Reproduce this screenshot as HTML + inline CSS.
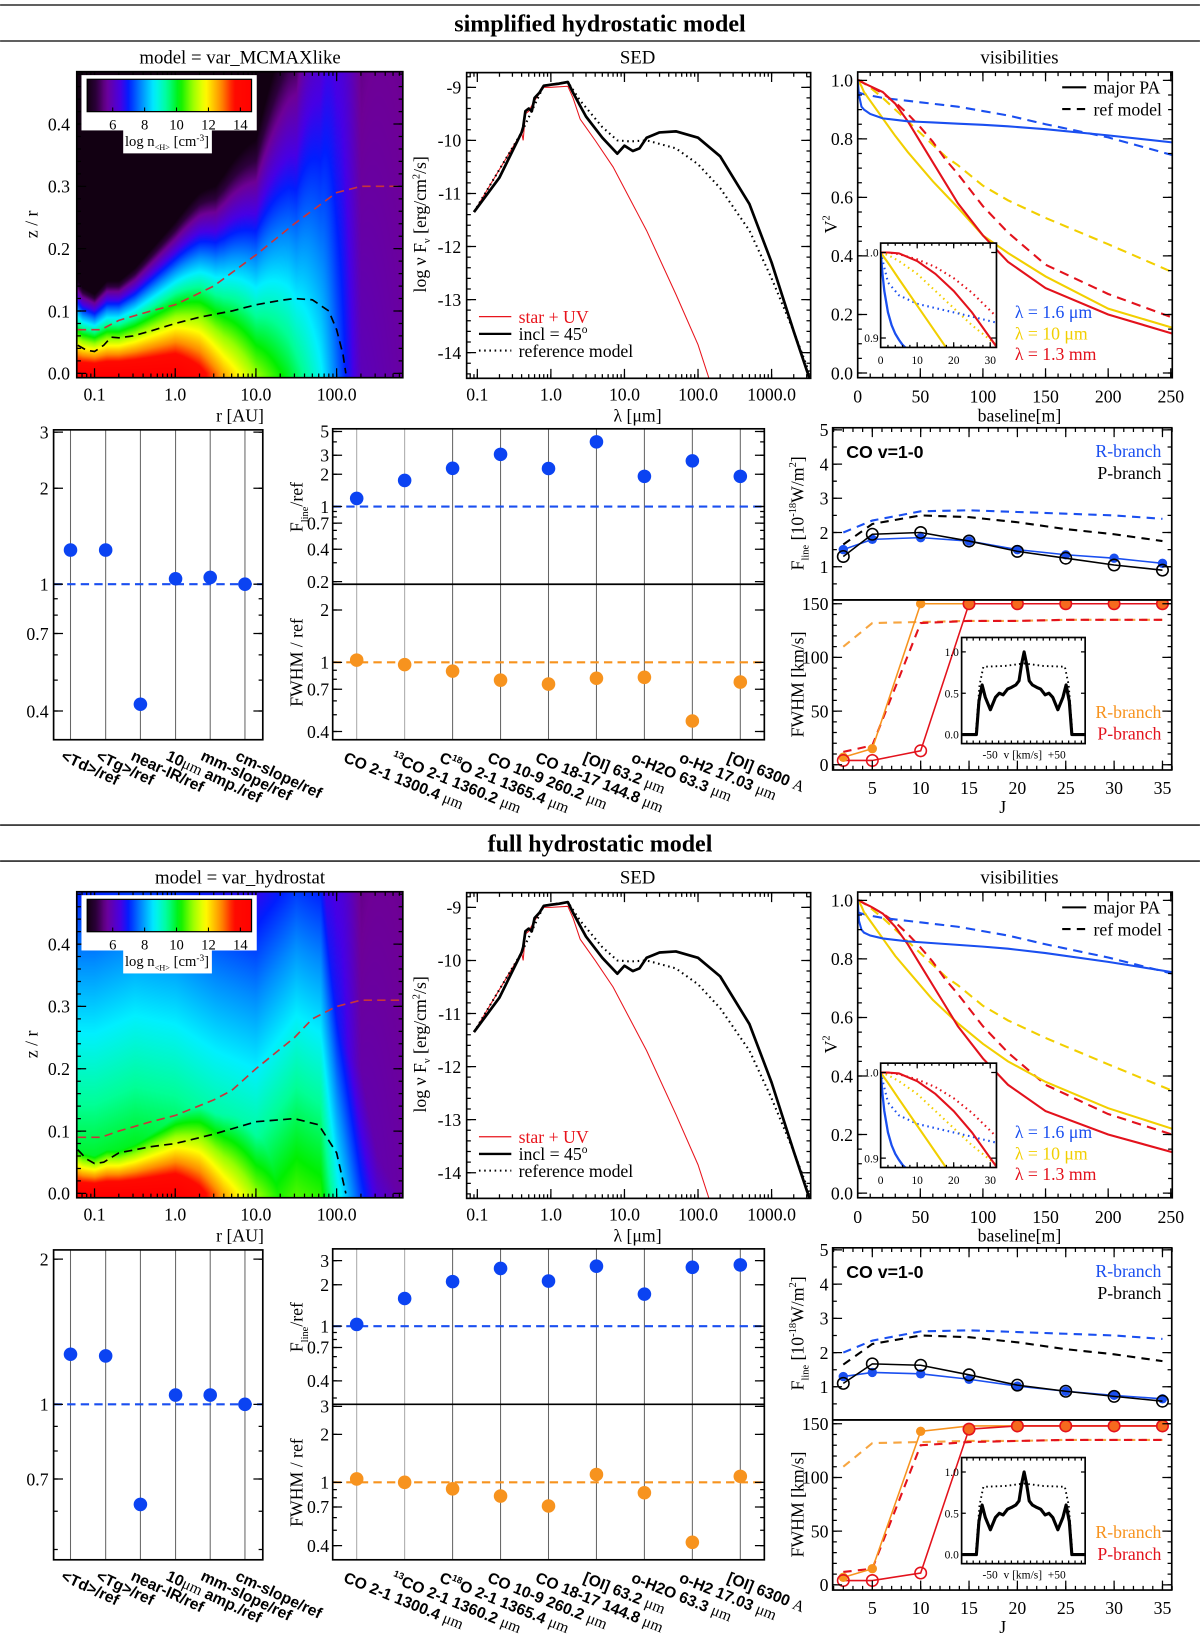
<!DOCTYPE html>
<html><head><meta charset="utf-8">
<style>
html,body{margin:0;padding:0;background:#fff;}
#wrap{position:relative;width:1200px;height:1637px;overflow:hidden;background:#fff;}
canvas{position:absolute;}
#fig{position:absolute;left:0;top:0;}
text{font-family:"Liberation Serif",serif;fill:#000;}
</style></head>
<body>
<div id="wrap">
<canvas id="dens-a"></canvas>
<canvas id="dens-b"></canvas>
<svg id="fig" xmlns="http://www.w3.org/2000/svg" width="1200" height="1637" viewBox="0 0 1150 1569"></svg>
</div>
<script>
// ---------------- DATA ----------------
// SED
const sedLam = [0.09,0.2,0.4,0.42,0.45,0.5,0.55,0.6,0.7,0.8,1.0,1.3,1.7,2,2.5,3,5,8,10,13,16,20,30,50,100,200,500,1000,2000,3300];
const sedBlack = [-11.35,-10.7,-9.85,-9.75,-9.45,-9.4,-9.45,-9.2,-9.1,-8.97,-8.95,-8.93,-8.9,-9.1,-9.35,-9.55,-9.95,-10.25,-10.1,-10.2,-10.15,-9.95,-9.85,-9.83,-9.95,-10.3,-11.2,-12.3,-13.6,-14.5];
const sedRefLam = [0.09,0.4,0.8,1.7,2.5,5,8,12,20,50,100,200,500,1000,2000,3300];
const sedRef = [-11.35,-9.85,-8.97,-8.9,-9.25,-9.75,-10.0,-10.02,-10.0,-10.15,-10.45,-10.9,-11.7,-12.6,-13.6,-14.4];
const sedStarLam = [0.09,0.4,0.42,0.45,0.5,0.6,0.8,1.0,1.7,2,2.5,4,7,20,50,100,150];
const sedStar = [-11.35,-9.85,-10.0,-9.5,-9.45,-9.25,-9.0,-9.0,-8.98,-9.2,-9.6,-10.0,-10.5,-11.7,-12.9,-13.85,-14.6];
const sedXTicks = [0.1,1,10,100,1000];
const sedXLabels = ['0.1','1.0','10.0','100.0','1000.0'];
const sedYTicks = [-9,-10,-11,-12,-13,-14];

// visibilities
const visX = [0,1,3,5,10,20,30,40,50,60,70,80,100,120,150,200,251];
const visBlueSolidA = [1.0,0.95,0.91,0.9,0.885,0.87,0.865,0.86,0.858,0.856,0.854,0.852,0.848,0.843,0.833,0.812,0.788];
const visBlueDashA = [0.96,0.958,0.955,0.953,0.948,0.94,0.935,0.93,0.925,0.92,0.915,0.91,0.895,0.88,0.85,0.805,0.745];
const visYelSolidA = [1,0.995,0.98,0.96,0.93,0.87,0.81,0.755,0.705,0.655,0.61,0.565,0.47,0.41,0.33,0.22,0.155];
const visYelDashA = [1,1,0.995,0.99,0.975,0.94,0.9,0.86,0.82,0.78,0.74,0.71,0.64,0.59,0.53,0.44,0.345];
const visRedSolidA = [1,1,0.995,0.99,0.98,0.96,0.92,0.86,0.79,0.72,0.65,0.58,0.47,0.38,0.29,0.2,0.135];
const visRedDashA = [1,1,0.995,0.99,0.98,0.955,0.925,0.885,0.84,0.79,0.73,0.68,0.57,0.48,0.37,0.27,0.19];
const visBlueSolidB = [1,0.93,0.9,0.89,0.88,0.87,0.865,0.86,0.857,0.854,0.851,0.848,0.842,0.835,0.82,0.79,0.755];
const visBlueDashB = [0.96,0.958,0.955,0.953,0.948,0.94,0.935,0.93,0.925,0.92,0.915,0.91,0.895,0.88,0.85,0.805,0.75];
const visYelSolidB = [1,0.995,0.98,0.96,0.93,0.87,0.81,0.76,0.71,0.66,0.62,0.58,0.51,0.45,0.38,0.29,0.22];
const visYelDashB = [1,1,0.995,0.99,0.975,0.94,0.9,0.86,0.82,0.78,0.74,0.71,0.64,0.59,0.53,0.44,0.35];
const visRedSolidB = [1,1,0.995,0.99,0.98,0.955,0.91,0.85,0.78,0.71,0.64,0.57,0.46,0.37,0.28,0.2,0.14];
const visRedDashB = [1,1,0.995,0.99,0.98,0.955,0.925,0.885,0.84,0.79,0.73,0.68,0.57,0.48,0.37,0.27,0.2];
// inset
const insBlueX = [0,0.5,1,2,3,4,5,6,7];
const insBlueSolid = [1,0.975,0.955,0.93,0.915,0.905,0.898,0.892,0.888];
const insX = [0,2,5,10,15,20,25,31.7];
const insBlueDot = [1,0.965,0.95,0.94,0.935,0.93,0.925,0.918];
const insYelSolid = [1,0.988,0.969,0.938,0.907,0.876,0.845,0.80];
const insYelDot = [1,0.997,0.99,0.975,0.955,0.935,0.915,0.892];
const insRedSolid = [1,1,0.999,0.99,0.975,0.955,0.93,0.89];
const insRedDot = [1,1,0.998,0.992,0.983,0.97,0.953,0.925];

// ratio panels
const ratioCats = ['&lt;Td&gt;/ref','&lt;Tg&gt;/ref','near-IR/ref','10<tspan font-family="Liberation Serif" font-weight="normal">μm</tspan> amp./ref','mm-slope/ref','cm-slope/ref'];
const ratioValsA = [1.28,1.28,0.42,1.04,1.05,1.0];
const ratioValsB = [1.27,1.26,0.62,1.045,1.045,1.0];
const ratioTickLabelsA = [0.4,0.7,1,2,3];
const ratioTickLabelsB = [0.7,1,2];

// line panels
const lineCats = ['CO 2-1 1300.4 <tspan font-family="Liberation Serif" font-weight="normal">μm</tspan>',
 '<tspan font-size="9" dy="-6">13</tspan><tspan dy="6">CO 2-1 1360.2 </tspan><tspan font-family="Liberation Serif" font-weight="normal">μm</tspan>',
 'C<tspan font-size="9" dy="-6">18</tspan><tspan dy="6">O 2-1 1365.4 </tspan><tspan font-family="Liberation Serif" font-weight="normal">μm</tspan>',
 'CO 10-9 260.2 <tspan font-family="Liberation Serif" font-weight="normal">μm</tspan>',
 'CO 18-17 144.8 <tspan font-family="Liberation Serif" font-weight="normal">μm</tspan>',
 '[OI] 63.2 <tspan font-family="Liberation Serif" font-weight="normal">μm</tspan>',
 'o-H2O 63.3 <tspan font-family="Liberation Serif" font-weight="normal">μm</tspan>',
 'o-H2 17.03 <tspan font-family="Liberation Serif" font-weight="normal">μm</tspan>',
 '[OI] 6300 <tspan font-family="Liberation Serif" font-weight="normal">A</tspan>'];
const lineFluxA = [1.19,1.75,2.27,3.06,2.26,4.0,1.91,2.66,1.91];
const lineFwhmA = [1.03,0.97,0.89,0.79,0.75,0.81,0.82,0.46,0.77];
const lineFluxB = [1.03,1.59,2.11,2.63,2.13,2.73,1.71,2.68,2.79];
const lineFwhmB = [1.05,1.0,0.91,0.82,0.71,1.12,0.86,0.42,1.09];
const lineTopLabelsA = [0.2,0.4,0.7,1,2,3,5];
const lineBotLabelsA = [0.4,0.7,1,2];
const lineTopLabelsB = [0.4,0.7,1,2,3];
const lineBotLabelsB = [0.4,0.7,1,2,3];

// CO lines
const coJ = [2,5,10,15,20,25,30,35];
const coRDashA = [2.0,2.35,2.62,2.65,2.6,2.55,2.5,2.4];
const coPDashA = [1.65,2.25,2.5,2.45,2.3,2.1,1.95,1.75];
const coRFluxA = [1.5,1.8,1.85,1.75,1.5,1.35,1.25,1.1];
const coPFluxA = [1.3,1.95,2.0,1.75,1.45,1.25,1.05,0.9];
const coRDashB = [2.0,2.35,2.62,2.65,2.6,2.55,2.5,2.4];
const coPDashB = [1.65,2.25,2.5,2.45,2.3,2.1,1.95,1.75];
const coRFluxB = [1.3,1.42,1.38,1.22,1.02,0.87,0.75,0.65];
const coPFluxB = [1.1,1.67,1.63,1.35,1.05,0.87,0.72,0.58];
const coRFwhmDashA = [110,132,133,134,134,135,135,135];
const coPFwhmDashA = [12,18,132,134,134,135,135,135];
const coRFwhmA = [7,15,150,150,150,150,150,150];
const coPFwhmA = [4,4,13,150,150,150,150,150];
const coRFwhmDashB = [110,132,133,134,134,135,135,135];
const coPFwhmDashB = [12,15,130,133,134,135,135,135];
const coRFwhmB = [7,15,143,148,148,148,148,148];
const coPFwhmB = [4,4,11,145,148,148,148,148];
// line profile inset
const profV = [-97,-75,-71,-66,-61,-53,-45,-39,-33,-26,-20,-13,-8,-4,0,4,8,13,20,26,33,39,45,53,61,66,71,75,97];
const profSolid = [0,0,0.4,0.6,0.45,0.3,0.45,0.5,0.48,0.55,0.57,0.6,0.65,0.85,1.0,0.85,0.65,0.6,0.57,0.55,0.48,0.5,0.45,0.3,0.45,0.6,0.4,0,0];
const profDotV = [-97,-76,-70,-64,-30,0,30,64,70,76,97];
const profDot = [0,0,0.6,0.82,0.83,0.86,0.83,0.82,0.6,0,0];

// density model parameters (by log r)
const mX=[-1.3,0,0.3,0.6,1.0,1.4,1.8,2.0,2.3,2.9], mV=[15,15,14,12.5,11,10,8.7,7.6,6,5.7];
const hX=[-1.3,-1.15,-1.0,-0.85,-0.7,-0.5,0,0.5,1,1.5,1.8,2.0,2.3,2.9], hV=[0.016,0.013,0.012,0.014,0.014,0.016,0.023,0.035,0.057,0.11,0.2,0.4,1,3];
const uX=[-1.3,-1.0,-0.5,0,0.5,1.0,1.5,1.8,2.0,2.3,2.5,2.9], uV=[10.4,10.4,10.6,10.5,10.2,10.0,10.6,10.4,8.9,7.2,6.3,5.5];
const uSlope = 7;
// dashed contours
const blackRA=[0.062,0.08,0.1,0.13,0.16,0.2,0.3,0.5,1,2,5,10,20,30,50,80,100,120,130];
const blackZA=[0.045,0.037,0.035,0.045,0.058,0.057,0.06,0.068,0.08,0.09,0.1,0.11,0.117,0.12,0.118,0.1,0.07,0.03,0.0];
const redRA=[0.062,0.12,0.2,0.5,1,3,10,30,100,200,600];
const redZA=[0.07,0.07,0.085,0.1,0.11,0.14,0.19,0.24,0.29,0.3,0.3];
const blackRB=[0.062,0.08,0.1,0.13,0.2,0.5,1,3,10,30,60,100,130];
const blackZB=[0.07,0.055,0.048,0.05,0.065,0.075,0.08,0.095,0.115,0.12,0.11,0.065,0.0];
const redRB=[0.062,0.12,0.2,0.5,1,3,5,10,30,50,100,200,600];
const redZB=[0.09,0.09,0.1,0.115,0.125,0.15,0.165,0.2,0.25,0.28,0.3,0.31,0.31];

// ---------------- HELPERS ----------------
const K = 1200/1150;
const NS='http://www.w3.org/2000/svg';
const svg=document.getElementById('fig');
const defs=document.createElementNS(NS,'defs');
svg.appendChild(defs);
const BLUE='#1a4ff0', DBLUE='#0b43f2', YEL='#f2cf00', RED='#e3121c', ORG='#f7931e';

function mk(tag,attrs,parent,name,inter){
  const e=document.createElementNS(NS,tag);
  for(const k in attrs) e.setAttribute(k,attrs[k]);
  
  
  (parent||svg).appendChild(e);
  return e;
}
function txt(g,x,y,s,attrs,name){
  const t=mk('text',Object.assign({x:x,y:y},attrs||{}),g,name);
  t.innerHTML=s;
  return t;
}
function grp(name){return mk('g',{},svg,name);}
function lg(v){return Math.log10(v);}
function interp(xs,ys,x){
  if(x<=xs[0])return ys[0];
  for(let i=1;i<xs.length;i++) if(x<=xs[i]){const t=(x-xs[i-1])/(xs[i]-xs[i-1]);return ys[i-1]+t*(ys[i]-ys[i-1]);}
  return ys[ys.length-1];
}
let clipN=0;
function clip(x0,y0,x1,y1){
  const id='c'+(clipN++);
  const c=mk('clipPath',{id:id},defs,'clip-region');
  mk('rect',{x:x0,y:y0,width:x1-x0,height:y1-y0},c,'clip-rect');
  return 'url(#'+id+')';
}
function path(g,xs,ys,sx,sy,style,name){
  const d=xs.map((x,i)=>(i?'L':'M')+sx(x).toFixed(2)+','+sy(ys[i]).toFixed(2)).join('');
  return mk('path',Object.assign({d:d,fill:'none'},style),g,name);
}
function frame(g,x0,y0,x1,y1,name){
  mk('rect',{x:x0,y:y0,width:x1-x0,height:y1-y0,fill:'none',stroke:'#000','stroke-width':1.6},g,name);
}
function xt(g,sx,vals,y0,y1,len,name){
  let d='';
  for(const v of vals){const x=sx(v).toFixed(2);d+=`M${x},${y1}v${-len}M${x},${y0}v${len}`;}
  mk('path',{d:d,stroke:'#000','stroke-width':1.2,fill:'none'},g,name);
}
function yt(g,sy,vals,x0,x1,len,name){
  let d='';
  for(const v of vals){const y=sy(v).toFixed(2);d+=`M${x0},${y}h${len}M${x1},${y}h${-len}`;}
  mk('path',{d:d,stroke:'#000','stroke-width':1.2,fill:'none'},g,name);
}
function range(a,b,s){const r=[];for(let v=a;v<=b+1e-9;v+=s)r.push(+v.toFixed(6));return r;}
function logMinors(lo,hi){const r=[];for(let e=Math.floor(lo)-1;e<=Math.ceil(hi);e++)for(let m=1;m<10;m++){const v=m*Math.pow(10,e);const l=Math.log10(v);if(l>=lo&&l<=hi)r.push(v);}return r;}
function dots(g,xs,ys,sx,sy,r,style,name){
  xs.forEach((x,i)=>{mk('circle',Object.assign({cx:sx(x).toFixed(2),cy:sy(ys[i]).toFixed(2),r:r},style),g,name);});
}
// colormap
const cmV=[4.4,5.0,5.6,6.5,7.0,7.8,8.6,9.4,10.2,11.0,11.8,12.8,13.6,15];
const cmC=[[18,0,18],[45,0,60],[110,0,150],[70,0,230],[0,30,255],[0,140,255],[0,240,255],[0,255,150],[0,240,0],[150,255,0],[255,255,0],[255,140,0],[255,10,0],[255,0,0]];
function cmap(v){
  if(v<=cmV[0])return cmC[0];
  for(let i=1;i<cmV.length;i++) if(v<=cmV[i]){const t=(v-cmV[i-1])/(cmV[i]-cmV[i-1]);return [0,1,2].map(k=>Math.round(cmC[i-1][k]+t*(cmC[i][k]-cmC[i-1][k])));}
  return cmC[cmC.length-1];
}
function drawDens(id,oy,hydro){
  const c=document.getElementById(id);
  const x0=73.5,x1=386,y0=68.7+oy,y1=362+oy;
  const W=Math.round((x1-x0)*K),H=Math.round((y1-y0)*K);
  c.width=W;c.height=H;
  c.style.left=(x0*K)+'px';c.style.top=(y0*K)+'px';
  c.style.width=W+'px';c.style.height=H+'px';
  const ctx=c.getContext('2d');
  const img=ctx.createImageData(W,H);
  for(let j=0;j<H;j++){
    const z=0.484-(j+0.5)/H*0.491;
    for(let i=0;i<W;i++){
      const lr=-1.22+(i+0.5)/W*4.04;
      let v=interp(mX,mV,lr)-Math.max(z,0)/interp(hX,hV,lr);
      if(hydro) v=Math.max(v,interp(uX,uV,lr)-uSlope*Math.max(z,0));
      const col=cmap(v);const p=(j*W+i)*4;
      img.data[p]=col[0];img.data[p+1]=col[1];img.data[p+2]=col[2];img.data[p+3]=255;
    }
  }
  ctx.putImageData(img,0,0);
}
// colorbar gradient
(function(){
  const gr=mk('linearGradient',{id:'cbar',x1:'0',x2:'1',y1:'0',y2:'0'},defs,'colorbar-gradient');
  for(let i=0;i<=40;i++){const v=4.4+i/40*10.3;const c=cmap(v);
    mk('stop',{offset:(i/40).toFixed(3),'stop-color':`rgb(${c[0]},${c[1]},${c[2]})`},gr,'gradient-stop');}
})();

// ---------------- PANELS ----------------
function sectionHeader(oy,title,name){
  const g=grp(name);
  mk('line',{x1:0,x2:1150,y1:4.8+oy,y2:4.8+oy,stroke:'#000','stroke-width':1.3},g,'section-top-rule');
  mk('line',{x1:0,x2:1150,y1:39.3+oy,y2:39.3+oy,stroke:'#000','stroke-width':1.3},g,'section-bottom-rule');
  txt(g,575,30+oy,title,{'text-anchor':'middle','font-size':23,'font-weight':'bold'},'section-title');
}

function densityPanel(oy,title,bR,bZ,rR,rZ,name){
  const g=grp(name);
  const x0=73.5,x1=386,y0=68.7+oy,y1=362+oy;
  const sx=v=>x0+(lg(v)+1.22)/4.04*(x1-x0);
  const sy=v=>y1-(v+0.007)/0.491*(y1-y0);
  txt(g,230,61+oy,title,{'text-anchor':'middle','font-size':18},'panel-title');
  const cp=clip(x0,y0,x1,y1);
  const cg=mk('g',{'clip-path':cp},g,'contours');
  path(cg,rR,rZ,sx,sy,{stroke:'#c8343a','stroke-width':1.6,'stroke-dasharray':'8,5'},'red-dashed-contour');
  path(cg,bR,bZ,sx,sy,{stroke:'#000','stroke-width':1.6,'stroke-dasharray':'8,5'},'black-dashed-contour');
  frame(g,x0,y0,x1,y1,'density-frame');
  xt(g,sx,[0.1,1,10,100],y0,y1,9,'x-major-ticks');
  xt(g,sx,logMinors(-1.22,2.82),y0,y1,4,'x-minor-ticks');
  yt(g,sy,[0,0.1,0.2,0.3,0.4],x0,x1,9,'y-major-ticks');
  yt(g,sy,range(0,0.48,0.02),x0,x1,4,'y-minor-ticks');
  ['0.1','1.0','10.0','100.0'].forEach((s,i)=>txt(g,sx([0.1,1,10,100][i]),384+oy,s,{'text-anchor':'middle','font-size':17},'x-tick-label'));
  [0,0.1,0.2,0.3,0.4].forEach(v=>txt(g,67,sy(v)+6,v.toFixed(1),{'text-anchor':'end','font-size':17},'y-tick-label'));
  txt(g,230,404+oy,'r [AU]',{'text-anchor':'middle','font-size':17},'x-axis-title');
  txt(g,0,0,'z / r',{'text-anchor':'middle','font-size':17,transform:`translate(36,${215+oy}) rotate(-90)`},'y-axis-title');
  // colorbar
  const cb=mk('g',{},g,'colorbar');
  mk('rect',{x:78,y:72+oy,width:168,height:53,fill:'#fff'},cb,'colorbar-box');
  mk('rect',{x:118,y:124+oy,width:85,height:23,fill:'#fff'},cb,'colorbar-label-box');
  mk('rect',{x:83.5,y:76+oy,width:157.5,height:31,fill:'url(#cbar)',stroke:'#000','stroke-width':1.2},cb,'colorbar-ramp');
  const cx=v=>83.5+(v-4.4)/10.3*157.5;
  [6,8,10,12,14].forEach(v=>{
    mk('line',{x1:cx(v),x2:cx(v),y1:107+oy,y2:103+oy,stroke:'#000','stroke-width':1},cb,'colorbar-tick');
    txt(cb,cx(v),124+oy,String(v),{'text-anchor':'middle','font-size':14},'colorbar-tick-label');
  });
  txt(cb,160,140+oy,'log n<tspan font-size="8" dy="4">&lt;H&gt;</tspan><tspan dy="-4"> [cm</tspan><tspan font-size="9" dy="-5">-3</tspan><tspan dy="5">]</tspan>',{'text-anchor':'middle','font-size':14},'colorbar-title');
}

function sedPanel(oy,name){
  const g=grp(name);
  const x0=447.2,x1=776.9,y0=69.6+oy,y1=362.6+oy;
  const sx=v=>x0+(lg(v)+1.145)/4.676*(x1-x0);
  const sy=v=>y1-(v+14.484)/5.761*(y1-y0);
  txt(g,611,61+oy,'SED',{'text-anchor':'middle','font-size':18},'panel-title');
  const cg=mk('g',{'clip-path':clip(x0,y0,x1,y1)},g,'sed-curves');
  path(cg,sedStarLam,sedStar,sx,sy,{stroke:'#e8141c','stroke-width':1},'star-uv-curve');
  path(cg,sedRefLam,sedRef,sx,sy,{stroke:'#000','stroke-width':2,'stroke-dasharray':'1.5,3.5'},'reference-model-curve');
  path(cg,sedLam,sedBlack,sx,sy,{stroke:'#000','stroke-width':2.6,'stroke-linejoin':'round'},'incl-45-curve');
  frame(g,x0,y0,x1,y1,'sed-frame');
  xt(g,sx,sedXTicks,y0,y1,9,'x-major-ticks');
  xt(g,sx,logMinors(-1.145,3.53),y0,y1,4,'x-minor-ticks');
  yt(g,sy,sedYTicks,x0,x1,9,'y-major-ticks');
  yt(g,sy,range(-14.4,-8.8,0.2),x0,x1,4,'y-minor-ticks');
  sedXLabels.forEach((s,i)=>txt(g,sx(sedXTicks[i]),384+oy,s,{'text-anchor':'middle','font-size':17},'x-tick-label'));
  sedYTicks.forEach(v=>txt(g,442,sy(v)+6,String(v),{'text-anchor':'end','font-size':17},'y-tick-label'));
  txt(g,611,404+oy,'λ [μm]',{'text-anchor':'middle','font-size':17},'x-axis-title');
  txt(g,0,0,'log ν F<tspan font-size="10" dy="4">ν</tspan><tspan dy="-4"> [erg/cm</tspan><tspan font-size="10" dy="-6">2</tspan><tspan dy="6">/s]</tspan>',{'text-anchor':'middle','font-size':17,transform:`translate(408,${215+oy}) rotate(-90)`},'y-axis-title');
  const L=mk('g',{},g,'sed-legend');
  mk('line',{x1:459,x2:490,y1:303.5+oy,y2:303.5+oy,stroke:'#e8141c','stroke-width':1.2},L,'legend-line-star');
  txt(L,497,309.5+oy,'star + UV',{'font-size':17,fill:'#e8141c',style:'fill:#e8141c'},'legend-entry-star');
  mk('line',{x1:459,x2:490,y1:320+oy,y2:320+oy,stroke:'#000','stroke-width':2.2},L,'legend-line-incl');
  txt(L,497,326+oy,'incl = 45<tspan font-size="11" dy="-7">o</tspan>',{'font-size':17},'legend-entry-incl');
  mk('line',{x1:459,x2:490,y1:336+oy,y2:336+oy,stroke:'#000','stroke-width':2,'stroke-dasharray':'1.5,3.5'},L,'legend-line-ref');
  txt(L,497,342+oy,'reference model',{'font-size':17},'legend-entry-ref');
}

function visPanel(oy,S,name){
  const g=grp(name);
  const x0=822,x1=1123.5,y0=69+oy,y1=362+oy;
  const sx=v=>x0+v/251.2*(x1-x0);
  const sy=v=>y1-(v+0.016)/1.0445*(y1-y0);
  txt(g,977,61+oy,'visibilities',{'text-anchor':'middle','font-size':18},'panel-title');
  const cg=mk('g',{'clip-path':clip(x0,y0,x1,y1)},g,'vis-curves');
  const D={'stroke-dasharray':'9,6'};
  path(cg,visX,S.yd,sx,sy,Object.assign({stroke:YEL,'stroke-width':2},D),'yellow-ref-curve');
  path(cg,visX,S.rd,sx,sy,Object.assign({stroke:RED,'stroke-width':2},D),'red-ref-curve');
  path(cg,visX,S.bd,sx,sy,Object.assign({stroke:BLUE,'stroke-width':2},D),'blue-ref-curve');
  path(cg,visX,S.ys,sx,sy,{stroke:YEL,'stroke-width':2},'yellow-major-pa-curve');
  path(cg,visX,S.rs,sx,sy,{stroke:RED,'stroke-width':2},'red-major-pa-curve');
  path(cg,visX,S.bs,sx,sy,{stroke:BLUE,'stroke-width':2},'blue-major-pa-curve');
  frame(g,x0,y0,x1,y1,'vis-frame');
  xt(g,sx,[0,50,100,150,200,250],y0,y1,9,'x-major-ticks');
  xt(g,sx,range(0,250,10),y0,y1,4,'x-minor-ticks');
  yt(g,sy,[0,0.2,0.4,0.6,0.8,1.0],x0,x1,9,'y-major-ticks');
  yt(g,sy,range(0,1,0.05),x0,x1,4,'y-minor-ticks');
  [0,50,100,150,200,250].forEach(v=>txt(g,sx(v),386+oy,String(v),{'text-anchor':'middle','font-size':17},'x-tick-label'));
  [0,0.2,0.4,0.6,0.8,1.0].forEach(v=>txt(g,817.5,sy(v)+6,v.toFixed(1),{'text-anchor':'end','font-size':17},'y-tick-label'));
  txt(g,977,404+oy,'baseline[m]',{'text-anchor':'middle','font-size':17},'x-axis-title');
  txt(g,0,0,'V<tspan font-size="10" dy="-7">2</tspan>',{'text-anchor':'middle','font-size':17,transform:`translate(802,${215+oy}) rotate(-90)`},'y-axis-title');
  // legend
  mk('line',{x1:1018,x2:1041,y1:83.7+oy,y2:83.7+oy,stroke:'#000','stroke-width':2},g,'legend-line-major-pa');
  txt(g,1048,89.7+oy,'major PA',{'font-size':17},'legend-entry-major-pa');
  mk('line',{x1:1018,x2:1041,y1:104.5+oy,y2:104.5+oy,stroke:'#000','stroke-width':2,'stroke-dasharray':'8,6'},g,'legend-line-ref');
  txt(g,1048,110.5+oy,'ref model',{'font-size':17},'legend-entry-ref-model');
  txt(g,972.6,304.7+oy,'λ = 1.6 μm',{'font-size':17,style:'fill:'+BLUE},'legend-entry-1-6um');
  txt(g,972.6,325.4+oy,'λ = 10 μm',{'font-size':17,style:'fill:'+YEL},'legend-entry-10um');
  txt(g,972.6,345.2+oy,'λ = 1.3 mm',{'font-size':17,style:'fill:'+RED},'legend-entry-1-3mm');
  // inset
  const ig=mk('g',{},g,'vis-inset');
  const ix0=844,ix1=955,iy0=233+oy,iy1=333+oy;
  mk('rect',{x:ix0,y:iy0,width:ix1-ix0,height:iy1-iy0,fill:'#fff'},ig,'inset-background');
  const isx=v=>ix0+v*3.5, isy=v=>242+oy+(1-v)*820;
  const ic=mk('g',{'clip-path':clip(ix0,iy0,ix1,iy1)},ig,'inset-curves');
  path(ic,insX,insYelDot,isx,isy,{stroke:YEL,'stroke-width':2,'stroke-dasharray':'1.5,3.5'},'inset-yellow-dotted');
  path(ic,insX,insRedDot,isx,isy,{stroke:RED,'stroke-width':2,'stroke-dasharray':'1.5,3.5'},'inset-red-dotted');
  path(ic,insX,insBlueDot,isx,isy,{stroke:BLUE,'stroke-width':2,'stroke-dasharray':'1.5,3.5'},'inset-blue-dotted');
  path(ic,insX,insYelSolid,isx,isy,{stroke:YEL,'stroke-width':2},'inset-yellow-solid');
  path(ic,insX,insRedSolid,isx,isy,{stroke:RED,'stroke-width':2},'inset-red-solid');
  path(ic,insBlueX,insBlueSolid,isx,isy,{stroke:BLUE,'stroke-width':2.2},'inset-blue-solid');
  frame(ig,ix0,iy0,ix1,iy1,'inset-frame');
  xt(ig,isx,[0,10,20,30],iy0,iy1,5,'inset-x-ticks');
  xt(ig,isx,range(0,30,2),iy0,iy1,2.5,'inset-x-minor-ticks');
  yt(ig,isy,[0.9,1.0],ix0,ix1,5,'inset-y-ticks');
  [0,10,20,30].forEach(v=>txt(ig,isx(v),349+oy,String(v),{'text-anchor':'middle','font-size':11},'inset-x-tick-label'));
  txt(ig,842,isy(1.0)+4,'1.0',{'text-anchor':'end','font-size':11},'inset-y-tick-label');
  txt(ig,842,isy(0.9)+4,'0.9',{'text-anchor':'end','font-size':11},'inset-y-tick-label');
}

function ratioPanel(oy,vals,lo,hi,labels,name){
  const g=grp(name);
  const x0=51.3,x1=251.8,y0=412+oy,y1=709+oy;
  const cats=[67.5,101.2,134.5,168.2,201.4,234.7];
  const sy=v=>y1-(lg(v)-lg(lo))/(lg(hi)-lg(lo))*(y1-y0);
  cats.forEach(x=>mk('line',{x1:x,x2:x,y1:y0,y2:y1,stroke:'#666','stroke-width':1},g,'category-gridline'));
  mk('line',{x1:x0,x2:x1,y1:sy(1),y2:sy(1),stroke:BLUE,'stroke-width':2,'stroke-dasharray':'8,5'},g,'reference-line');
  vals.forEach((v,i)=>mk('circle',{cx:cats[i],cy:sy(v).toFixed(2),r:6.5,fill:DBLUE},g,'ratio-dot'));
  frame(g,x0,y0,x1,y1,'ratio-frame');
  yt(g,sy,labels,x0,x1,9,'y-major-ticks');
  yt(g,sy,logMinors(lg(lo),lg(hi)),x0,x1,4,'y-minor-ticks');
  labels.forEach(v=>txt(g,46.5,sy(v)+6,String(v),{'text-anchor':'end','font-size':17},'y-tick-label'));
  ratioCats.forEach((s,i)=>{const x=cats[i]-10,y=y1+19;
    txt(g,x,y,s,{'font-weight':'bold','font-size':15,transform:`rotate(25 ${x} ${y})`,style:'font-family:"Liberation Sans",sans-serif'},'category-label');});
}

function linePanel(oy,flux,fwhm,tlo,thi,tl,blo,bhi,bl,name){
  const g=grp(name);
  const x0=318.8,x1=732.5,y0=411+oy,ym=560+oy,y1=709+oy;
  const sx=i=>341.8+i*45.96;
  const st=v=>ym-(lg(v)-lg(tlo))/(lg(thi)-lg(tlo))*(ym-y0);
  const sb=v=>y1-(lg(v)-lg(blo))/(lg(bhi)-lg(blo))*(y1-ym);
  for(let i=0;i<9;i++) mk('line',{x1:sx(i),x2:sx(i),y1:y0,y2:y1,stroke:i<2?'#aaa':'#666','stroke-width':1},g,'category-gridline');
  mk('line',{x1:x0,x2:x1,y1:st(1),y2:st(1),stroke:BLUE,'stroke-width':2,'stroke-dasharray':'8,5'},g,'flux-reference-line');
  mk('line',{x1:x0,x2:x1,y1:sb(1),y2:sb(1),stroke:ORG,'stroke-width':2,'stroke-dasharray':'8,5'},g,'fwhm-reference-line');
  flux.forEach((v,i)=>mk('circle',{cx:sx(i),cy:st(v).toFixed(2),r:6.5,fill:DBLUE},g,'flux-ratio-dot'));
  fwhm.forEach((v,i)=>mk('circle',{cx:sx(i),cy:sb(v).toFixed(2),r:6.5,fill:ORG},g,'fwhm-ratio-dot'));
  frame(g,x0,y0,x1,y1,'line-frame');
  mk('line',{x1:x0,x2:x1,y1:ym,y2:ym,stroke:'#000','stroke-width':1.6},g,'panel-divider');
  yt(g,st,tl,x0,x1,9,'flux-major-ticks');
  yt(g,st,logMinors(lg(tlo),lg(thi)),x0,x1,4,'flux-minor-ticks');
  yt(g,sb,bl,x0,x1,9,'fwhm-major-ticks');
  yt(g,sb,logMinors(lg(blo),lg(bhi)),x0,x1,4,'fwhm-minor-ticks');
  tl.forEach(v=>txt(g,315.4,st(v)+6,String(v),{'text-anchor':'end','font-size':17},'flux-tick-label'));
  bl.forEach(v=>txt(g,315.4,sb(v)+6,String(v),{'text-anchor':'end','font-size':17},'fwhm-tick-label'));
  txt(g,0,0,'F<tspan font-size="10" dy="5">line</tspan><tspan dy="-5">/ref</tspan>',{'text-anchor':'middle','font-size':17,transform:`translate(290,${486+oy}) rotate(-90)`},'flux-axis-title');
  txt(g,0,0,'FWHM / ref',{'text-anchor':'middle','font-size':17,transform:`translate(290,${635+oy}) rotate(-90)`},'fwhm-axis-title');
  lineCats.forEach((s,i)=>{const x=sx(i)-13.5,y=y1+21;
    txt(g,x,y,s,{'font-weight':'bold','font-size':15,transform:`rotate(22 ${x} ${y})`,style:'font-family:"Liberation Sans",sans-serif'},'line-label');});
}

function coPanel(oy,S,name){
  const g=grp(name);
  const x0=798,x1=1123,y0=410+oy,ym=575+oy,y1=738+oy;
  const sx=v=>836+(v-5)*9.27;
  const st=v=>576+oy-v*32.8;
  const sb=v=>733+oy-v*1.029;
  const cg=mk('g',{'clip-path':clip(x0,y0,x1,ym)},g,'co-flux-curves');
  path(cg,coJ,S.rdash,sx,st,{stroke:BLUE,'stroke-width':2,'stroke-dasharray':'8,6'},'r-branch-ref-flux');
  path(cg,coJ,S.pdash,sx,st,{stroke:'#000','stroke-width':2,'stroke-dasharray':'8,6'},'p-branch-ref-flux');
  path(cg,coJ,S.rflux,sx,st,{stroke:BLUE,'stroke-width':1.5},'r-branch-flux');
  dots(cg,coJ,S.rflux,sx,st,4.5,{fill:BLUE},'r-branch-flux-marker');
  path(cg,coJ,S.pflux,sx,st,{stroke:'#000','stroke-width':1.5},'p-branch-flux');
  dots(cg,coJ,S.pflux,sx,st,5.5,{fill:'none',stroke:'#000','stroke-width':1.5},'p-branch-flux-marker');
  const bg=mk('g',{'clip-path':clip(x0,ym,x1,y1)},g,'co-fwhm-curves');
  path(bg,coJ,S.rfd,sx,sb,{stroke:'#f7a540','stroke-width':2,'stroke-dasharray':'8,6'},'r-branch-ref-fwhm');
  path(bg,coJ,S.pfd,sx,sb,{stroke:RED,'stroke-width':2,'stroke-dasharray':'8,6'},'p-branch-ref-fwhm');
  path(bg,coJ,S.rf,sx,sb,{stroke:ORG,'stroke-width':1.5},'r-branch-fwhm');
  path(bg,coJ,S.pf,sx,sb,{stroke:RED,'stroke-width':1.5},'p-branch-fwhm');
  dots(bg,coJ.slice(0,3),S.rf.slice(0,3),sx,sb,4.5,{fill:ORG},'r-branch-fwhm-marker');
  dots(bg,coJ.slice(0,3),S.pf.slice(0,3),sx,sb,5.5,{fill:'none',stroke:RED,'stroke-width':1.5},'p-branch-fwhm-marker');
  dots(bg,coJ.slice(3),S.pf.slice(3),sx,sb,5.5,{fill:'#f66a1e',stroke:RED,'stroke-width':1.5},'saturated-fwhm-marker');
  frame(g,x0,y0,x1,y1,'co-frame');
  mk('line',{x1:x0,x2:x1,y1:ym,y2:ym,stroke:'#000','stroke-width':1.8},g,'panel-divider');
  const Js=[5,10,15,20,25,30,35];
  xt(g,sx,Js,y0,y1,9,'j-major-ticks');
  xt(g,sx,range(1,36,1),y0,y1,4,'j-minor-ticks');
  yt(g,st,[1,2,3,4,5],x0,x1,9,'flux-major-ticks');
  yt(g,st,range(0.5,5,0.5),x0,x1,4,'flux-minor-ticks');
  yt(g,sb,[0,50,100,150],x0,x1,9,'fwhm-major-ticks');
  yt(g,sb,range(0,150,10),x0,x1,4,'fwhm-minor-ticks');
  Js.forEach(v=>txt(g,sx(v),761+oy,String(v),{'text-anchor':'middle','font-size':17},'j-tick-label'));
  [1,2,3,4,5].forEach(v=>txt(g,794,st(v)+6,String(v),{'text-anchor':'end','font-size':17},'flux-tick-label'));
  [0,50,100,150].forEach(v=>txt(g,794,sb(v)+6,String(v),{'text-anchor':'end','font-size':17},'fwhm-tick-label'));
  txt(g,961,779+oy,'J',{'text-anchor':'middle','font-size':17},'x-axis-title');
  txt(g,0,0,'F<tspan font-size="10" dy="5">line</tspan><tspan dy="-5"> [10</tspan><tspan font-size="10" dy="-7">-18</tspan><tspan dy="7">W/m</tspan><tspan font-size="10" dy="-7">2</tspan><tspan dy="7">]</tspan>',{'text-anchor':'middle','font-size':17,transform:`translate(770,${492+oy}) rotate(-90)`},'flux-axis-title');
  txt(g,0,0,'FWHM [km/s]',{'text-anchor':'middle','font-size':17,transform:`translate(770,${656+oy}) rotate(-90)`},'fwhm-axis-title');
  txt(g,811,439+oy,'CO v=1-0',{'font-weight':'bold','font-size':17,style:'font-family:"Liberation Sans",sans-serif'},'co-band-label');
  txt(g,1113,438+oy,'R-branch',{'text-anchor':'end','font-size':17,style:'fill:'+BLUE},'legend-r-branch');
  txt(g,1113,459+oy,'P-branch',{'text-anchor':'end','font-size':17},'legend-p-branch');
  txt(g,1113,688+oy,'R-branch',{'text-anchor':'end','font-size':17,style:'fill:'+ORG},'legend-r-branch-fwhm');
  txt(g,1113,709+oy,'P-branch',{'text-anchor':'end','font-size':17,style:'fill:'+RED},'legend-p-branch-fwhm');
  // inset profile
  const ig=mk('g',{},g,'line-profile-inset');
  const ix0=921.6,ix1=1040,iy0=611+oy,iy1=712.7+oy;
  mk('rect',{x:ix0,y:iy0,width:ix1-ix0,height:iy1-iy0,fill:'#fff'},ig,'inset-background');
  const vx=v=>981.5+v*0.61, vy=v=>704+oy-v*79.2;
  path(ig,profDotV,profDot,vx,vy,{stroke:'#000','stroke-width':1.8,'stroke-dasharray':'1.5,3'},'reference-profile');
  path(ig,profV,profSolid,vx,vy,{stroke:'#000','stroke-width':3,'stroke-linejoin':'round'},'model-profile');
  frame(ig,ix0,iy0,ix1,iy1,'inset-frame');
  xt(ig,vx,range(-90,90,10),iy0,iy1,3,'inset-x-ticks');
  yt(ig,vy,[0,0.5,1.0],ix0,ix1,4,'inset-y-ticks');
  [0,0.5,1.0].forEach(v=>txt(ig,919,vy(v)+4,v.toFixed(1),{'text-anchor':'end','font-size':11},'inset-y-tick-label'));
  txt(ig,981.5,727+oy,'-50&#160;&#160;v [km/s]&#160;&#160;+50',{'text-anchor':'middle','font-size':11},'inset-x-axis-title');
}

// ---------------- BUILD ----------------
drawDens('dens-a',0,false);
drawDens('dens-b',786,true);

sectionHeader(0,'simplified hydrostatic model','section-simplified');
densityPanel(0,'model = var_MCMAXlike',blackRA,blackZA,redRA,redZA,'density-panel-mcmaxlike');
sedPanel(0,'sed-panel-simplified');
visPanel(0,{bs:visBlueSolidA,bd:visBlueDashA,ys:visYelSolidA,yd:visYelDashA,rs:visRedSolidA,rd:visRedDashA},'visibility-panel-simplified');
ratioPanel(0,ratioValsA,0.325,3.05,ratioTickLabelsA,'continuum-ratio-panel-simplified');
linePanel(0,lineFluxA,lineFwhmA,0.189,5.29,lineTopLabelsA,0.359,2.81,lineBotLabelsA,'line-ratio-panel-simplified');
coPanel(0,{rdash:coRDashA,pdash:coPDashA,rflux:coRFluxA,pflux:coPFluxA,rfd:coRFwhmDashA,pfd:coPFwhmDashA,rf:coRFwhmA,pf:coPFwhmA},'co-panel-simplified');

sectionHeader(786,'full hydrostatic model','section-full');
densityPanel(786,'model = var_hydrostat',blackRB,blackZB,redRB,redZB,'density-panel-hydrostat');
sedPanel(786,'sed-panel-full');
visPanel(786,{bs:visBlueSolidB,bd:visBlueDashB,ys:visYelSolidB,yd:visYelDashB,rs:visRedSolidB,rd:visRedDashB},'visibility-panel-full');
ratioPanel(786,ratioValsB,0.476,2.09,ratioTickLabelsB,'continuum-ratio-panel-full');
linePanel(786,lineFluxB,lineFwhmB,0.27,3.65,lineTopLabelsB,0.326,3.09,lineBotLabelsB,'line-ratio-panel-full');
coPanel(786,{rdash:coRDashB,pdash:coPDashB,rflux:coRFluxB,pflux:coPFluxB,rfd:coRFwhmDashB,pfd:coPFwhmDashB,rf:coRFwhmB,pf:coPFwhmB},'co-panel-full');
</script>
</body></html>
